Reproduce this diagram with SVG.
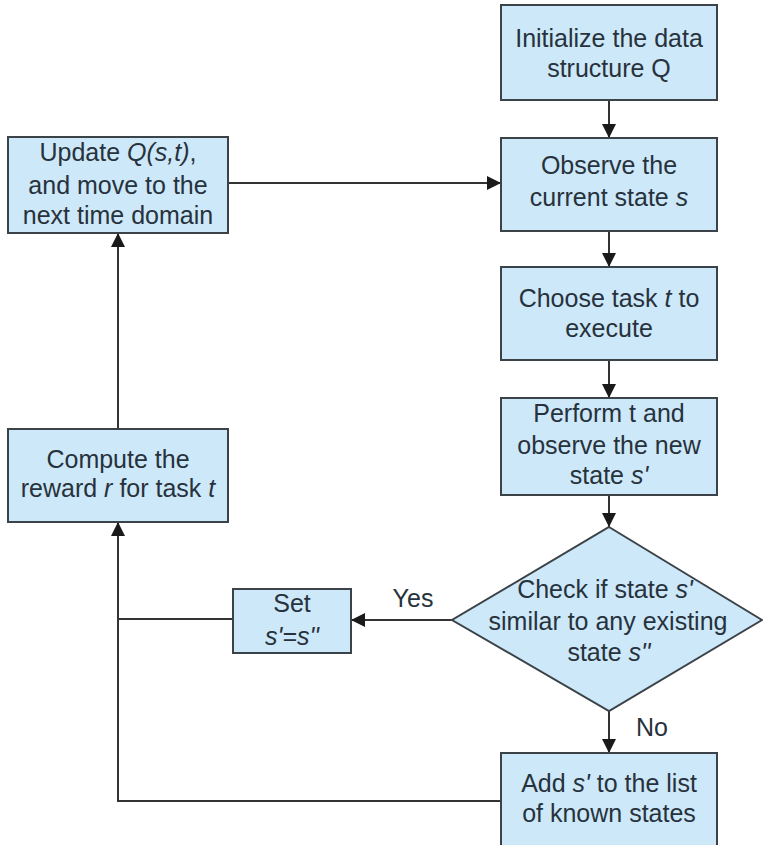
<svg xmlns="http://www.w3.org/2000/svg" width="763" height="845" viewBox="0 0 763 845">
  <style>
    .box { fill: #cde8f9; stroke: #3b4248; stroke-width: 2; }
    .lbl { font-family: "Liberation Sans", Arial, sans-serif; font-size: 25px; fill: #27323c; text-anchor: middle; }
    .it { font-style: italic; }
    .edge { fill: none; stroke: #333333; stroke-width: 2; }
  </style>
  <defs>
    <marker id="arrow" markerUnits="userSpaceOnUse" markerWidth="14" markerHeight="14" viewBox="0 0 14 14" refX="14" refY="7" orient="auto">
      <path d="M0,0 L14,7 L0,14 Z" fill="#1a1a1a"/>
    </marker>
  </defs>
  <rect width="763" height="845" fill="#ffffff"/>

  <g id="connectors">
    <line class="edge" x1="609" y1="100" x2="609" y2="138" marker-end="url(#arrow)"/>
    <line class="edge" x1="609" y1="231" x2="609" y2="267" marker-end="url(#arrow)"/>
    <line class="edge" x1="609" y1="360" x2="609" y2="398" marker-end="url(#arrow)"/>
    <line class="edge" x1="609" y1="495" x2="609" y2="527" marker-end="url(#arrow)"/>
    <line class="edge" x1="609" y1="711" x2="609" y2="753" marker-end="url(#arrow)"/>
    <line class="edge" x1="452" y1="620" x2="351" y2="620" marker-end="url(#arrow)"/>
    <line class="edge" x1="233" y1="619" x2="118" y2="619"/>
    <polyline class="edge" points="501,801 118,801 118,522" marker-end="url(#arrow)"/>
    <line class="edge" x1="118" y1="429" x2="118" y2="233" marker-end="url(#arrow)"/>
    <line class="edge" x1="228" y1="183" x2="501" y2="183" marker-end="url(#arrow)"/>
    <text class="lbl" x="413" y="607">Yes</text>
    <text class="lbl" x="652" y="736">No</text>
  </g>

  <g id="init">
    <rect class="box" x="501" y="5" width="216" height="95"/>
    <text class="lbl" x="609" y="47">Initialize the data</text>
    <text class="lbl" x="609" y="77">structure Q</text>
  </g>

  <g id="observe">
    <rect class="box" x="501" y="138" width="216" height="93"/>
    <text class="lbl" x="609" y="174">Observe the</text>
    <text class="lbl" x="609" y="206">current state <tspan class="it">s</tspan></text>
  </g>

  <g id="choose">
    <rect class="box" x="501" y="267" width="216" height="93"/>
    <text class="lbl" x="609" y="307">Choose task <tspan class="it">t</tspan> to</text>
    <text class="lbl" x="609" y="337">execute</text>
  </g>

  <g id="perform">
    <rect class="box" x="501" y="398" width="216" height="97"/>
    <text class="lbl" x="609" y="422">Perform t and</text>
    <text class="lbl" x="609" y="454">observe the new</text>
    <text class="lbl" x="609" y="484">state <tspan class="it">s'</tspan></text>
  </g>

  <g id="check">
    <polygon class="box" points="609,527 762,620 609,711 452,620"/>
    <text class="lbl" x="605" y="598">Check if state <tspan class="it">s'</tspan></text>
    <text class="lbl" x="608" y="630">similar to any existing</text>
    <text class="lbl" x="609" y="661">state <tspan class="it">s''</tspan></text>
  </g>

  <g id="add">
    <rect class="box" x="501" y="753" width="216" height="100"/>
    <text class="lbl" x="609" y="792">Add <tspan class="it">s'</tspan> to the list</text>
    <text class="lbl" x="609" y="822">of known states</text>
  </g>

  <g id="set">
    <rect class="box" x="233" y="589" width="118" height="64"/>
    <text class="lbl" x="292" y="612">Set</text>
    <text class="lbl it" x="292" y="645">s'=s''</text>
  </g>

  <g id="compute">
    <rect class="box" x="8" y="429" width="220" height="93"/>
    <text class="lbl" x="118" y="468">Compute the</text>
    <text class="lbl" x="118" y="497">reward <tspan class="it">r</tspan> for task <tspan class="it">t</tspan></text>
  </g>

  <g id="update">
    <rect class="box" x="8" y="137" width="220" height="96"/>
    <text class="lbl" x="118" y="161">Update <tspan class="it">Q(s,t)</tspan>,</text>
    <text class="lbl" x="118" y="194">and move to the</text>
    <text class="lbl" x="118" y="224">next time domain</text>
  </g>
</svg>
